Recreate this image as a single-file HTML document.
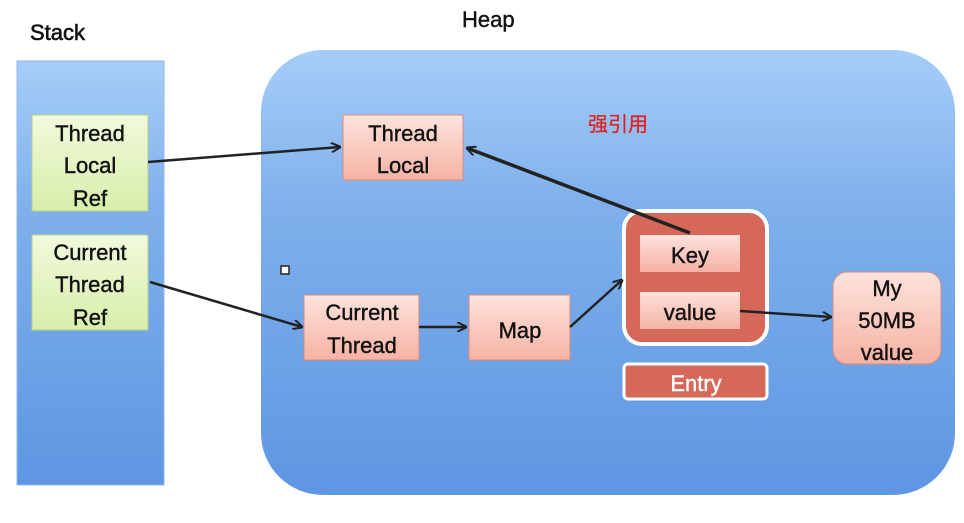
<!DOCTYPE html>
<html><head><meta charset="utf-8"><style>
body{margin:0;background:#fff;width:964px;height:518px;overflow:hidden}
text{font-family:"Liberation Sans","Noto Sans CJK SC",sans-serif}
.t{stroke:#111;stroke-width:0.4}
</style></head><body>
<svg width="964" height="518" viewBox="0 0 964 518" xmlns="http://www.w3.org/2000/svg">
<defs>
<linearGradient id="bl" x1="0" y1="0" x2="0" y2="1"><stop offset="0" stop-color="#a6cdf8"/><stop offset="0.35" stop-color="#7fb0ec"/><stop offset="1" stop-color="#5e96e2"/></linearGradient>
<linearGradient id="gr" x1="0" y1="0" x2="0" y2="1"><stop offset="0" stop-color="#f2f9dc"/><stop offset="1" stop-color="#d7eeaa"/></linearGradient>
<linearGradient id="pk" x1="0" y1="0" x2="0" y2="1"><stop offset="0" stop-color="#fde3dc"/><stop offset="1" stop-color="#f5b2a4"/></linearGradient>
<marker id="ar" markerWidth="10" markerHeight="10" refX="9" refY="5" orient="auto" markerUnits="userSpaceOnUse"><path d="M0,0 L10,5 L0,10" fill="none" stroke="#222" stroke-width="2"/></marker>
</defs>
<text x="30" y="40" font-size="22" fill="#111" stroke="#111" stroke-width="0.6">Stack</text>
<text x="462" y="27" font-size="22" fill="#111" stroke="#111" stroke-width="0.4">Heap</text>
<rect x="17" y="61" width="147" height="424" fill="url(#bl)" stroke="#8fb8e8"/>
<rect x="261" y="50" width="694" height="445" rx="62" fill="url(#bl)"/>
<g font-size="22" fill="#111" text-anchor="middle">
<rect x="32" y="115" width="116" height="96" fill="url(#gr)" stroke="#b9cf86"/>
<g class="t"><text x="90" y="141">Thread</text><text x="90" y="173">Local</text><text x="90" y="206">Ref</text></g>
<rect x="32" y="235" width="116" height="95" fill="url(#gr)" stroke="#b9cf86"/>
<g class="t"><text x="90" y="260">Current</text><text x="90" y="292">Thread</text><text x="90" y="325">Ref</text></g>
<rect x="343" y="115" width="120" height="65" fill="url(#pk)" stroke="#d98b7c"/>
<g class="t"><text x="403" y="141">Thread</text><text x="403" y="173">Local</text></g>
<rect x="304" y="295" width="115" height="65" fill="url(#pk)" stroke="#d98b7c"/>
<g class="t"><text x="362" y="320">Current</text><text x="362" y="353">Thread</text></g>
<rect x="469" y="295" width="101" height="65" fill="url(#pk)" stroke="#d98b7c"/>
<text class="t" x="520" y="338">Map</text>
<rect x="624" y="211" width="143" height="133" rx="18" fill="#d6685a" stroke="#fff" stroke-width="4"/>
<rect x="640" y="235" width="100" height="37" fill="url(#pk)"/>
<text class="t" x="690" y="263">Key</text>
<rect x="640" y="292" width="100" height="37" fill="url(#pk)"/>
<text class="t" x="690" y="320">value</text>
<rect x="624" y="364" width="143" height="35" rx="4" fill="#d6685a" stroke="#fff" stroke-width="3"/>
<text x="696" y="391" fill="#fff" stroke="#fff" stroke-width="0.4">Entry</text>
<rect x="833" y="272" width="108" height="92" rx="14" fill="url(#pk)" stroke="#d98b7c"/>
<g class="t"><text x="887" y="296">My</text><text x="887" y="328">50MB</text><text x="887" y="360">value</text></g>
</g>
<text x="588" y="131" font-size="20" fill="#e02020" stroke="#e02020" stroke-width="0.3">强引用</text>
<rect x="281" y="266" width="8" height="8" fill="#fff" stroke="#222" stroke-width="1.5"/>
<g stroke="#222" stroke-width="2.5" fill="none">
<line x1="148" y1="162" x2="340" y2="147" marker-end="url(#ar)"/>
<line x1="150" y1="282" x2="302" y2="327" marker-end="url(#ar)"/>
<line x1="419" y1="327" x2="466" y2="327" marker-end="url(#ar)"/>
<line x1="570" y1="327" x2="622" y2="280" marker-end="url(#ar)"/>
<line x1="740" y1="311" x2="831" y2="317" marker-end="url(#ar)"/>
<line x1="690" y1="233" x2="467" y2="148" stroke-width="3.5" marker-end="url(#ar)"/>
</g>
<text x="680" y="505" font-size="14" fill="#fff" opacity="0.85">https://blog.csdn.net/weixin_41507324</text>
</svg>
</body></html>
